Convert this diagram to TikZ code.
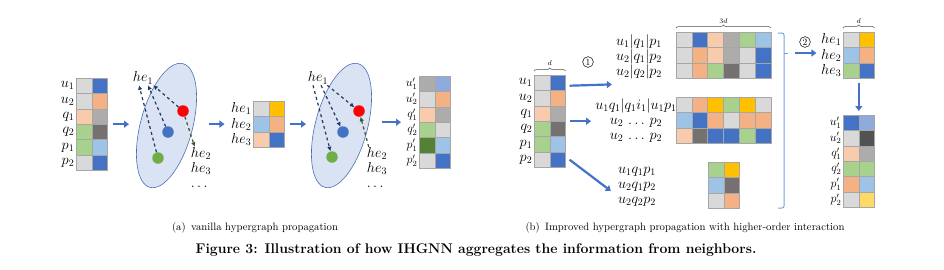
\documentclass[tikz,border=0pt]{standalone}
\usepackage{xcolor}
\usepackage{tikz}
\usetikzlibrary{arrows.meta,positioning,shapes.geometric,decorations.pathreplacing}
\definecolor{cLight}{HTML}{D9D9D9}
\definecolor{cBlue}{HTML}{4472C4}
\definecolor{cSalmon}{HTML}{F4B183}
\definecolor{cPeach}{HTML}{F8CBAD}
\definecolor{cGray}{HTML}{AEABAB}
\definecolor{cDark}{HTML}{767171}
\definecolor{cGreen}{HTML}{A9D18E}
\definecolor{cSky}{HTML}{9DC3E6}
\definecolor{cGold}{HTML}{FFC000}
\definecolor{cCorn}{HTML}{8FAADC}
\definecolor{cOlive}{HTML}{548235}
\definecolor{cCoal}{HTML}{525252}
\definecolor{cButter}{HTML}{FFD966}
\definecolor{cellline}{HTML}{A6A6A6}
\definecolor{edgefill}{HTML}{DAE3F3}
\definecolor{edgeline}{HTML}{4A6FB5}
\definecolor{navy}{HTML}{203864}
\definecolor{moss}{HTML}{385723}
\definecolor{dotred}{HTML}{FF0000}
\definecolor{dotblue}{HTML}{4472C4}
\definecolor{dotgreen}{HTML}{70AD47}
\definecolor{bracketblue}{HTML}{7BA0DE}
\tikzset{
  cell/.style={draw=cellline, line width=0.5pt, minimum width=15.8pt, minimum height=15.4pt, inner sep=0pt, outer sep=0pt},
  mathlab/.style={inner sep=1pt, font=\fontsize{14}{15}\selectfont},
  rowlab/.style={mathlab, anchor=east, inner sep=1.5pt},
  primelab/.style={rowlab, inner sep=0pt, xshift=-1.5pt, font=\fontsize{12}{12}\selectfont},
  flow/.style={-{Triangle[length=5pt,width=7pt]}, line width=2.2pt, draw=cBlue},
  msg/.style={-{Latex[length=4.5pt,width=4.5pt]}, dashed, line width=1.2pt, draw=navy},
  msgback/.style={msg, draw=moss},
  hyperedge/.style={ellipse, draw=edgeline, fill=edgefill, line width=0.6pt, minimum width=128pt, minimum height=52pt, rotate=75},
  dot/.style={circle, minimum size=11.5pt, inner sep=0pt},
  dimbrace/.style={decorate, decoration={brace, amplitude=3pt}, line width=0.5pt, draw=black!70},
  bracket/.style={draw=bracketblue, line width=1pt},
  stepnum/.style={circle, draw, line width=0.5pt, inner sep=1pt, font=\fontsize{9.5}{10}\selectfont},
  caption/.style={font=\fontsize{10.7}{12}\selectfont}
}
% grid of coloured cells: name, left x, top y, rows of colours
\newcommand{\featmat}[4]{%
  \foreach \rowcols [count=\r] in {#4} {
    \foreach \colname [count=\k] in \rowcols {
      \node[cell, fill=\colname] (#1-\r-\k) at ({#2+(\k-0.5)*15.8}, {#3+(\r-0.5)*15.4}) {};
    }
  }
}
% row labels to the left of a grid
\newcommand{\featlabels}[3][rowlab]{%
  \foreach \lab [count=\r] in {#3} {
    \node[#1] (#2-lab\r) at (#2-\r-1.west) {$\lab$};
  }
}

\begin{document}
\begin{tikzpicture}[x=1pt, y=-1pt]
  \fill[white] (0,0) rectangle (944,269);
  \useasboundingbox (0,0) rectangle (944,269);

  % (a) vanilla hypergraph propagation
  \featmat{inA}{76}{78}{{cLight,cBlue},{cLight,cSalmon},{cPeach,cGray},{cGreen,cDark},{cGreen,cSky},{cLight,cBlue}}
  \featlabels{inA}{u_1,u_2,q_1,q_2,p_1,p_2}

  \node[hyperedge] (edgeA) at (166.5,125.5) {};
  \node[dot, fill=dotred] (redA) at (183,111) {};
  \node[dot, fill=dotblue] (blueA) at (168,132) {};
  \node[dot, fill=dotgreen] (greenA) at (158,158) {};
  \node[mathlab] (heA) at (143,78) {$he_1$};
  \node[mathlab, align=left] (restA) at (201,167) {$he_2$\\$he_3$\\$\dots$};
  \draw[msg] (greenA) -- ([xshift=-4pt]heA.south);
  \draw[msg] (blueA) -- ([xshift=5pt]heA.south);
  \draw[msg] (redA) -- ([xshift=-1pt]heA.south east);
  \draw[msgback] (redA) -- ([xshift=5pt,yshift=-1pt]restA.north west);

  \featmat{heM}{253}{101}{{cLight,cGold},{cSky,cSalmon},{cPeach,cBlue}}
  \featlabels{heM}{he_1,he_2,he_3}

  \node[hyperedge] (edgeB) at (341.5,125.5) {};
  \node[dot, fill=dotred] (redB) at (359,111) {};
  \node[dot, fill=dotblue] (blueB) at (343,132) {};
  \node[dot, fill=dotgreen] (greenB) at (332,157) {};
  \node[mathlab] (heC) at (318,78) {$he_1$};
  \node[mathlab, align=left] (restB) at (377,167) {$he_2$\\$he_3$\\$\dots$};
  \draw[msg] ([xshift=-5pt]heC.south) -- (greenB);
  \draw[msg] ([xshift=3pt]heC.south) -- (blueB);
  \draw[msg] ([xshift=-2pt]heC.south east) -- (redB);
  \draw[msgback] ([xshift=3pt,yshift=-1pt]restB.north west) -- (redB);

  \featmat{outA}{419}{76}{{cGray,cCorn},{cLight,cSalmon},{cPeach,cGray},{cGreen,cLight},{cOlive,cSky},{cLight,cBlue}}
  \featlabels[primelab]{outA}{u_1',u_2',q_1',q_2',p_1',p_2'}

  \coordinate (gapA1) at (129,0);
  \coordinate (gapA2) at (209,0);
  \coordinate (gapA3) at (306,0);
  \coordinate (gapA4) at (382,0);
  \draw[flow] ([xshift=5pt]inA-3-2.south east) -- (gapA1 |- inA-3-2.south east);
  \draw[flow] (gapA2 |- heM-lab2.west) -- ([xshift=-5pt]heM-lab2.west);
  \draw[flow] ([xshift=5pt]heM-2-2.east) -- (gapA3 |- heM-2-2.east);
  \draw[flow] (gapA4 |- outA-3-1.south west) -- ([xshift=-18pt]outA-3-1.south west);

  \node[caption] (capA) at (255,228) {(a)\enspace vanilla hypergraph propagation};

  % (b) improved propagation with higher-order interaction
  \featmat{inB}{534}{75}{{cLight,cBlue},{cLight,cSalmon},{cPeach,cGray},{cGreen,cDark},{cGreen,cSky},{cLight,cBlue}}
  \featlabels{inB}{u_1,u_2,q_1,q_2,p_1,p_2}
  \draw[dimbrace] ([yshift=4pt]inB-1-1.north west) -- ([yshift=4pt]inB-1-2.north east)
    node[midway, above=2pt, font=\scriptsize] (dimIn) {$d$};

  \node[mathlab, align=center] (topTxt) at (639,57) {$u_1|q_1|p_1$\\$u_2|q_1|p_2$\\$u_2|q_2|p_2$};
  \node[mathlab, align=center] (midTxt) at (636,120) {$u_1q_1|q_1i_1|u_1p_1$\\$u_2\,\ldots\,p_2$\\$u_2\,\ldots\,p_2$};
  \node[mathlab, align=center] (botTxt) at (637,187) {$u_1q_1p_1$\\$u_2q_1p_2$\\$u_2q_2p_2$};
  \node[stepnum] (stepOne) at (588,62) {1};

  \draw[flow] ([xshift=4pt,yshift=-3pt]inB-1-2.east) -- ([xshift=-3pt,yshift=-4pt]topTxt.south west);
  \draw[flow] ([xshift=4pt]inB-3-2.south east) -- ([xshift=-3pt]inB-3-2.south east -| midTxt.west);
  \draw[flow] ([xshift=4pt]inB-6-2.east) -- ([xshift=-6pt,yshift=-4pt]botTxt.west);

  \featmat{topM}{676}{32}{{cLight,cBlue,cPeach,cGray,cGreen,cSky},{cLight,cSalmon,cPeach,cGray,cLight,cBlue},{cLight,cSalmon,cGreen,cDark,cLight,cBlue}}
  \featmat{midM}{676}{97}{{cLight,cSalmon,cGold,cGreen,cGold,cLight},{cSky,cBlue,cSalmon,cLight,cSalmon,cSalmon},{cPeach,cDark,cBlue,cBlue,cGreen,cBlue}}
  \featmat{botM}{708}{162}{{cGreen,cGold},{cSky,cDark},{cLight,cSalmon}}
  \draw[dimbrace] ([yshift=4pt]topM-1-1.north west) -- ([yshift=4pt]topM-1-6.north east)
    node[midway, above=1pt, font=\scriptsize] (dimTop) {$3d$};

  % bracket gathering the three groups
  \draw[bracket, rounded corners=2pt] (778,33) -- (784,33) -- (784,208) -- (778,208);
  \draw[bracket] (784,53) -- (788,53) coordinate (tip2);
  \node[stepnum] (stepTwo) at (805,42) {2};

  \featmat{heB}{843}{32}{{cLight,cGold},{cSky,cSalmon},{cGreen,cBlue}}
  \featlabels{heB}{he_1,he_2,he_3}
  \draw[dimbrace] ([yshift=4pt]heB-1-1.north west) -- ([yshift=4pt]heB-1-2.north east)
    node[midway, above=1pt, font=\scriptsize] (dimHe) {$d$};
  \draw[flow] ([xshift=7pt]tip2) -- ([xshift=-3pt]tip2 -| heB-lab2.west);

  \featmat{outB}{843}{115}{{cBlue,cCorn},{cLight,cCoal},{cPeach,cGray},{cGreen,cGreen},{cSalmon,cSky},{cLight,cButter}}
  \featlabels[primelab]{outB}{u_1',u_2',q_1',q_2',p_1',p_2'}
  \draw[flow] ([yshift=-5pt]heB-3-1.south east) -- ([yshift=4pt]outB-1-1.north east);

  \node[caption] (capB) at (685,228) {(b)\enspace Improved hypergraph propagation with higher-order interaction};

  \node[font=\bfseries\fontsize{14}{16}\selectfont] (capFig) at (476,250) {Figure 3: Illustration of how IHGNN aggregates the information from neighbors.};
\end{tikzpicture}
\end{document}
